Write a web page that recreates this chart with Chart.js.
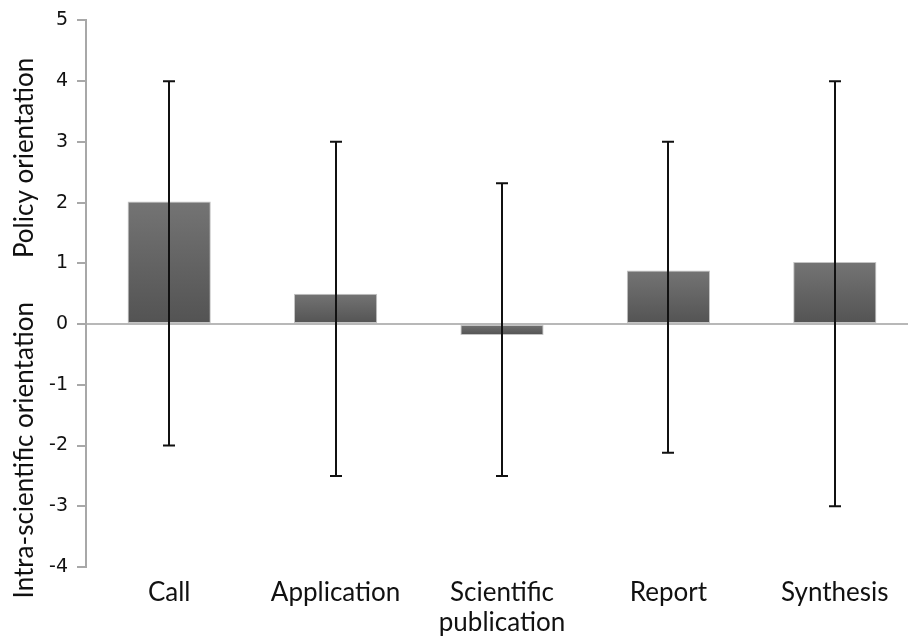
<!DOCTYPE html>
<html>
<head>
<meta charset="utf-8">
<script src="https://cdn.jsdelivr.net/npm/chart.js@4"></script>
<style>
  html, body { margin: 0; padding: 0; background: #fff; overflow: hidden; }
  #wrap { width: 918px; height: 640px; }
</style>
</head>
<body>
<div id="wrap"><canvas id="orient-chart"></canvas></div>
<script>
// categories and values
const categories = ['Call', 'Application', ['Scientific', 'publication'], 'Report', 'Synthesis'];
const means = [2.02, 0.5, -0.18, 0.88, 1.02];
const errHigh = [4, 3, 2.32, 3, 4];
const errLow = [-2, -2.5, -2.5, -2.12, -3];
const yTicks = [5, 4, 3, 2, 1, 0, -1, -2, -3, -4];

const titleFont = '26px Lato, "Open Sans", sans-serif';

// error bars drawn through the scales
const errorBars = {
    id: 'errorBars',
    afterDatasetsDraw(chart) {
        const { ctx, scales: { x, y } } = chart;
        ctx.save();
        ctx.strokeStyle = '#111';
        ctx.lineWidth = 2;
        for (let i = 0; i < means.length; i++) {
            const px = Math.round(x.getPixelForValue(i));
            const top = y.getPixelForValue(errHigh[i]);
            const bot = y.getPixelForValue(errLow[i]);
            ctx.beginPath();
            ctx.moveTo(px, top); ctx.lineTo(px, bot);
            ctx.moveTo(px - 6, top); ctx.lineTo(px + 6, top);
            ctx.moveTo(px - 6, bot); ctx.lineTo(px + 6, bot);
            ctx.stroke();
        }
        ctx.restore();
    }
};

// the two halves of the y title, split at zero
const yTitles = {
    id: 'yTitles',
    afterDraw(chart) {
        const { ctx, scales: { y } } = chart;
        const zero = y.getPixelForValue(0);
        ctx.save();
        ctx.fillStyle = '#111';
        ctx.font = titleFont;
        ctx.textBaseline = 'middle';
        ctx.translate(25, 0);
        ctx.rotate(-Math.PI / 2);
        ctx.textAlign = 'left';
        ctx.fillText('Policy orientation', -(zero - 66), 0);
        ctx.textAlign = 'right';
        ctx.fillText('Intra-scientific orientation', -(zero - 22), 0);
        ctx.restore();
    }
};

function barGradient(context) {
    const chart = context.chart;
    const { ctx, chartArea, scales } = chart;
    if (!chartArea || !scales.y) return '#646464';
    const v = context.raw;
    const y0 = scales.y.getPixelForValue(0);
    const y1 = scales.y.getPixelForValue(v);
    const g = ctx.createLinearGradient(0, Math.min(y0, y1), 0, Math.max(y0, y1));
    g.addColorStop(0, '#747474');
    g.addColorStop(1, '#535353');
    return g;
}

new Chart(document.getElementById('orient-chart'), {
    type: 'bar',
    data: {
        labels: categories,
        datasets: [{
            data: means,
            backgroundColor: barGradient,
            borderColor: '#c4c4c4',
            borderWidth: 1,
            borderSkipped: false,
            barPercentage: 0.5,
            categoryPercentage: 1
        }]
    },
    options: {
        responsive: true,
        maintainAspectRatio: false,
        animation: false,
        layout: { padding: { top: 18, right: 0, left: 0, bottom: 0 } },
        plugins: {
            legend: { display: false },
            tooltip: { enabled: false }
        },
        scales: {
            x: {
                grid: { display: false },
                border: { display: false },
                ticks: {
                    color: '#111',
                    font: { family: 'Lato, "Open Sans", sans-serif', size: 26, lineHeight: 1.15 },
                    padding: 3,
                    maxRotation: 0,
                    autoSkip: false
                },
                afterFit(scale) { scale.height = 73; }
            },
            y: {
                min: -4,
                max: 5,
                afterBuildTicks(scale) { scale.ticks = yTicks.map(v => ({ value: v })); },
                border: { display: true, color: '#a8a8a8', width: 2 },
                grid: {
                    drawOnChartArea: true,
                    color: c => (c.tick && c.tick.value === 0 ? '#b8b8b8' : 'rgba(0,0,0,0)'),
                    lineWidth: 2,
                    tickColor: '#a8a8a8',
                    tickLength: 9
                },
                ticks: {
                    color: '#111',
                    font: { family: '"DejaVu Sans", sans-serif', size: 19 },
                    padding: 9
                },
                afterFit(scale) { scale.width = 86; }
            }
        }
    },
    plugins: [errorBars, yTitles]
});
</script>
</body>
</html>
